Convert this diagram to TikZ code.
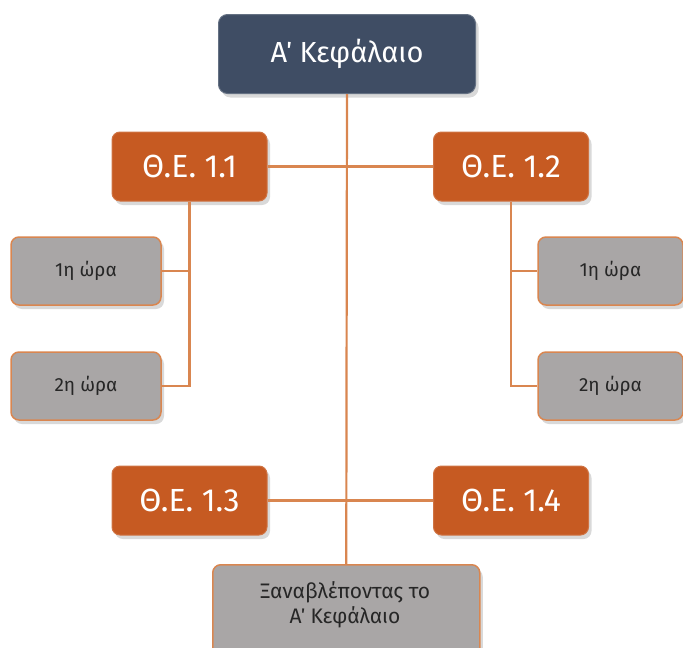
\documentclass[tikz,border=0pt]{standalone}
\usepackage{fontspec}
\setmainfont{Fira Sans}
\usetikzlibrary{shadows}
\definecolor{dark}{HTML}{3F4D64}
\definecolor{orng}{HTML}{C65A22}
\definecolor{gry}{HTML}{A9A6A6}
\definecolor{ln}{HTML}{D98650}
\begin{document}
\begin{tikzpicture}[x=1pt,y=-1pt,
  shd/.style={drop shadow={shadow xshift=3pt,shadow yshift=-4pt,opacity=0.25,fill=black!60}},
  topbox/.style={shd,fill=dark,draw=dark!80!white,line width=1pt,rounded corners=9pt,text=white,font=\fontsize{29}{34}\selectfont,anchor=north west,inner sep=0pt},
  thbox/.style={shd,fill=orng,draw=orng!85!white,line width=1pt,rounded corners=8pt,text=white,font=\fontsize{32}{36}\selectfont,inner sep=0pt,minimum width=155pt,minimum height=69pt},
  hrbox/.style={shd,fill=gry,draw=ln,line width=1.5pt,rounded corners=8pt,text=black!85,font=\fontsize{19}{22}\selectfont,inner sep=0pt,minimum width=150pt,minimum height=68pt},
  conn/.style={draw=ln,line width=2.2pt}]
\useasboundingbox (0,0) rectangle (683,648);
\node[thbox] (t11) at (189.5,166.5) {Θ.Ε. 1.1};
\node[thbox] (t12) at (511,166.5) {Θ.Ε. 1.2};
\node[thbox] (t13) at (189.5,500.5) {Θ.Ε. 1.3};
\node[thbox] (t14) at (511,500.5) {Θ.Ε. 1.4};
\node[hrbox] (l1) at (86,271) {1η ώρα};
\node[hrbox] (l2) at (86,386) {2η ώρα};
\node[hrbox,minimum width=145pt] (r1) at (610.5,271) {1η ώρα};
\node[hrbox,minimum width=145pt] (r2) at (610.5,386) {2η ώρα};
\node[topbox,minimum width=257pt,minimum height=79pt] (top) at (218,14) {Α΄ Κεφάλαιο};
\node[hrbox,anchor=north west,minimum width=267pt,minimum height=95pt] (rev) at (212,564) {};
\node[font=\fontsize{21}{25}\selectfont,align=center,text=black!85] (revt) at (345,605) {Ξαναβλέποντας το\\Α΄ Κεφάλαιο};
\coordinate (l1j) at (189.5,271);
\coordinate (l2j) at (189.5,386);
\coordinate (r1j) at (511,271);
\coordinate (r2j) at (511,386);
\path[conn] (top.south) -- (rev.north);
\path[conn] (t11.east) -- (t12.west);
\path[conn] (t13.east) -- (t14.west);
\path[conn] (t11.south) -- (l2j) -- (l2.east);
\path[conn] (l1j) -- (l1.east);
\path[conn] (t12.south) -- (r2j) -- (r2.west);
\path[conn] (r1j) -- (r1.west);
\end{tikzpicture}
\end{document}
